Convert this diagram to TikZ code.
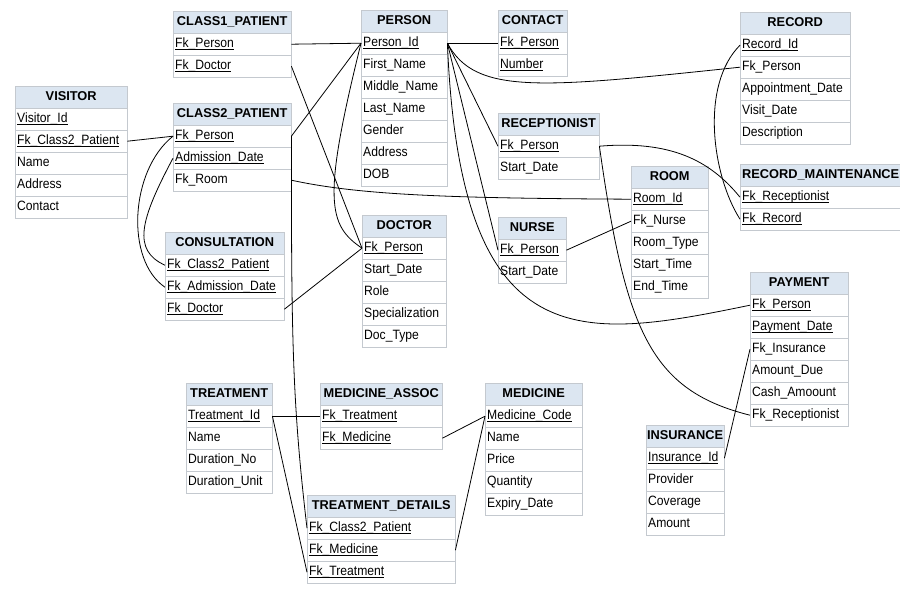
\documentclass[tikz,border=0pt]{standalone}
\usepackage{fontspec}
\setmainfont{Liberation Sans}
\newfontfamily\fieldfont{Liberation Sans}[FakeStretch=0.9]
\usepackage{tikz}
\definecolor{HeadBlue}{HTML}{DCE6F1}
\definecolor{RowLine}{HTML}{C4C9CF}
\hyphenpenalty=10000
\exhyphenpenalty=10000
\newcommand{\keyname}[1]{\underline{\smash{#1}}}

\begin{document}
\begin{tikzpicture}[x=1pt, y=-1pt,
    tblhead/.style={draw=RowLine, fill=HeadBlue, anchor=north west, minimum width=#1, minimum height=22pt, inner sep=0pt, text height=9.4pt, text depth=2.6pt, font=\fontsize{12.8}{15}\selectfont\bfseries},
    tblrow/.style={draw=RowLine, fill=white, anchor=north west, text width=#1, minimum height=22pt, inner xsep=2pt, inner ysep=0pt, text height=9.6pt, text depth=2.6pt, align=left, font=\fieldfont\fontsize{13.5}{15}\selectfont},
    link/.style={line width=0.8pt, black}
  ]
    \useasboundingbox[fill=white] (0,0) rectangle (900,600);

    % left column
    \node[tblhead=112pt] (visitor) at (15,86) {VISITOR};
    \foreach \f [count=\i] in {\keyname{Visitor\_Id}, \keyname{Fk\_Class2\_Patient}, Name, Address, Contact}
      \node[tblrow=108pt] (visitor-\i) at (15,86+22*\i) {\f};

    \node[tblhead=118pt] (cls1) at (173,11) {CLASS1\_PATIENT};
    \foreach \f [count=\i] in {\keyname{Fk\_Person}, \keyname{Fk\_Doctor}}
      \node[tblrow=114pt] (cls1-\i) at (173,11+22*\i) {\f};

    \node[tblhead=118pt] (cls2) at (173,103) {CLASS2\_PATIENT};
    \foreach \f [count=\i] in {\keyname{Fk\_Person}, \keyname{Admission\_Date}, Fk\_Room}
      \node[tblrow=114pt] (cls2-\i) at (173,103+22*\i) {\f};

    \node[tblhead=119pt] (consult) at (165,232) {CONSULTATION};
    \foreach \f [count=\i] in {\keyname{Fk\_Class2\_Patient}, \keyname{Fk\_Admission\_Date}, \keyname{Fk\_Doctor}}
      \node[tblrow=115pt] (consult-\i) at (165,232+22*\i) {\f};

    % middle column
    \node[tblhead=86pt] (person) at (361,10) {PERSON};
    \foreach \f [count=\i] in {\keyname{Person\_Id}, First\_Name, Middle\_Name, Last\_Name, Gender, Address, DOB}
      \node[tblrow=82pt] (person-\i) at (361,10+22*\i) {\f};

    \node[tblhead=84pt] (doctor) at (362,215) {DOCTOR};
    \foreach \f [count=\i] in {\keyname{Fk\_Person}, Start\_Date, Role, Specialization, Doc\_Type}
      \node[tblrow=80pt] (doctor-\i) at (362,215+22*\i) {\f};

    \node[tblhead=69pt] (contact) at (498,10) {CONTACT};
    \foreach \f [count=\i] in {\keyname{Fk\_Person}, \keyname{Number}}
      \node[tblrow=65pt] (contact-\i) at (498,10+22*\i) {\f};

    \node[tblhead=101pt] (recep) at (498,113) {RECEPTIONIST};
    \foreach \f [count=\i] in {\keyname{Fk\_Person}, Start\_Date}
      \node[tblrow=97pt] (recep-\i) at (498,113+22*\i) {\f};

    \node[tblhead=68pt] (nurse) at (498,217) {NURSE};
    \foreach \f [count=\i] in {\keyname{Fk\_Person}, Start\_Date}
      \node[tblrow=64pt] (nurse-\i) at (498,217+22*\i) {\f};

    \node[tblhead=77pt] (room) at (631,166) {ROOM};
    \foreach \f [count=\i] in {\keyname{Room\_Id}, Fk\_Nurse, Room\_Type, Start\_Time, End\_Time}
      \node[tblrow=73pt] (room-\i) at (631,166+22*\i) {\f};

    % right column
    \node[tblhead=110pt] (record) at (740,12) {RECORD};
    \foreach \f [count=\i] in {\keyname{Record\_Id}, Fk\_Person, Appointment\_Date, Visit\_Date, Description}
      \node[tblrow=106pt] (record-\i) at (740,12+22*\i) {\f};

    \node[tblhead=161pt] (recmaint) at (740,164) {RECORD\_MAINTENANCE};
    \foreach \f [count=\i] in {\keyname{Fk\_Receptionist}, \keyname{Fk\_Record}}
      \node[tblrow=157pt] (recmaint-\i) at (740,164+22*\i) {\f};

    \node[tblhead=98pt] (payment) at (750,272) {PAYMENT};
    \foreach \f [count=\i] in {\keyname{Fk\_Person}, \keyname{Payment\_Date}, Fk\_Insurance, Amount\_Due, Cash\_Amoount, Fk\_Receptionist}
      \node[tblrow=94pt] (payment-\i) at (750,272+22*\i) {\f};

    \node[tblhead=78pt] (insur) at (646,425) {INSURANCE};
    \foreach \f [count=\i] in {\keyname{Insurance\_Id}, Provider, Coverage, Amount}
      \node[tblrow=74pt] (insur-\i) at (646,425+22*\i) {\f};

    % bottom row
    \node[tblhead=86pt] (treat) at (186,383) {TREATMENT};
    \foreach \f [count=\i] in {\keyname{Treatment\_Id}, Name, Duration\_No, Duration\_Unit}
      \node[tblrow=82pt] (treat-\i) at (186,383+22*\i) {\f};

    \node[tblhead=122pt] (medassoc) at (320,383) {MEDICINE\_ASSOC};
    \foreach \f [count=\i] in {\keyname{Fk\_Treatment}, \keyname{Fk\_Medicine}}
      \node[tblrow=118pt] (medassoc-\i) at (320,383+22*\i) {\f};

    \node[tblhead=97pt] (medicine) at (485,383) {MEDICINE};
    \foreach \f [count=\i] in {\keyname{Medicine\_Code}, Name, Price, Quantity, Expiry\_Date}
      \node[tblrow=93pt] (medicine-\i) at (485,383+22*\i) {\f};

    \node[tblhead=148pt] (treatdet) at (307,495) {TREATMENT\_DETAILS};
    \foreach \f [count=\i] in {\keyname{Fk\_Class2\_Patient}, \keyname{Fk\_Medicine}, \keyname{Fk\_Treatment}}
      \node[tblrow=144pt] (treatdet-\i) at (307,495+22*\i) {\f};

    % relations
    \draw[link] (visitor-2.east) -- (cls2-1.west);
    \draw[link] (cls2-1.west) .. controls +(-43,34) and +(-40,-27) .. (consult-2.west);
    \draw[link] (cls2-2.west) .. controls +(-33,62) and +(-33,-15) .. (consult-1.west);
    \draw[link] (cls1-1.east) -- (person-1.west);
    \draw[link] (cls1-2.east) -- (doctor-1.west);
    \draw[link] (cls2-1.east) -- (person-1.west);
    \draw[link] (cls2-1.east) .. controls +(0,200) and +(-15,-128) .. (treatdet-1.west);
    \draw[link] (cls2-3.east) .. controls +(69,15) and +(-181,-1) .. (room-1.west);
    \draw[link] (consult-3.east) -- (doctor-1.west);
    \draw[link] (person-1.west) .. controls +(-39,157) and +(-34,-23) .. (doctor-1.west);
    \draw[link] (person-1.east) -- (contact-1.west);
    \draw[link] (person-1.east) .. controls +(28,52) and +(-200,21) .. (record-2.west);
    \draw[link] (person-1.east) -- (recep-1.west);
    \draw[link] (person-1.east) -- (nurse-1.west);
    \draw[link] (person-1.east) .. controls +(13,317) and +(-170,35) .. (payment-1.west);
    \draw[link] (recep-1.east) .. controls +(71,-6) and +(-30,-37) .. (recmaint-1.west);
    \draw[link] (recep-1.east) .. controls +(26,184) and +(-100,-25) .. (payment-6.west);
    \draw[link] (record-1.west) .. controls +(-40,40) and +(-28,-44) .. (recmaint-2.west);
    \draw[link] (nurse-1.east) -- (room-2.west);
    \draw[link] (payment-3.west) -- (insur-1.east);
    \draw[link] (treat-1.east) -- (medassoc-1.west);
    \draw[link] (treat-1.east) -- (treatdet-3.west);
    \draw[link] (medassoc-2.east) -- (medicine-1.west);
    \draw[link] (medicine-1.west) -- (treatdet-2.east);
\end{tikzpicture}
\end{document}
